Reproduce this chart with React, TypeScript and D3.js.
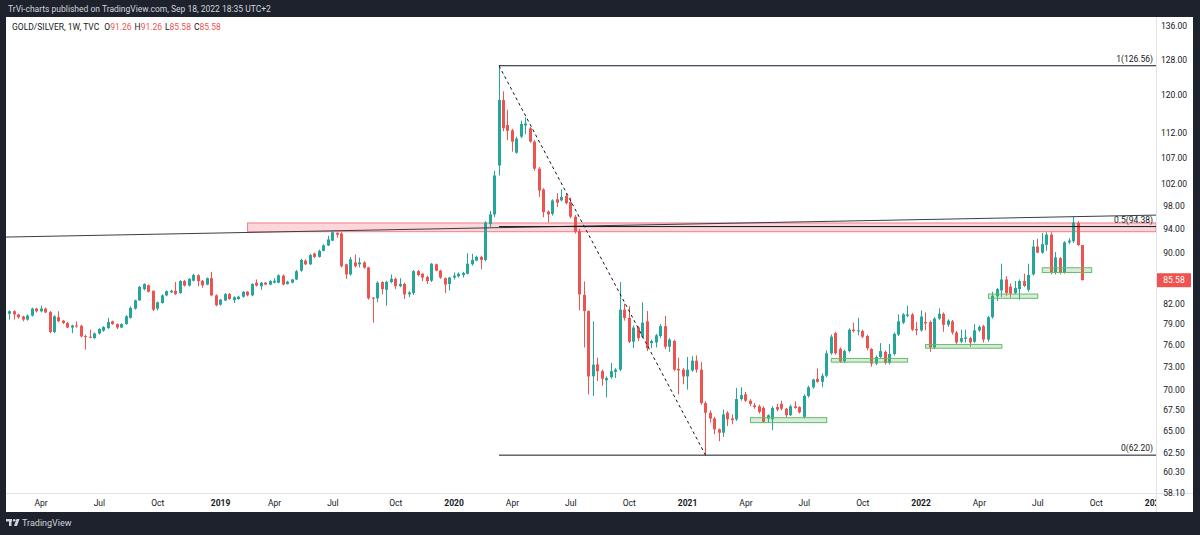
import React, { useEffect } from "react";
import * as d3 from "d3";

type OHLC = [number, number, number, number]; // open, high, low, close

// ---- data (weekly bars, GOLD/SILVER, TVC) ----
const firstWeek = "2018-02-12";

const ohlc2018: OHLC[] = [
  [80.5, 81.0, 79.65, 80.87], [80.87, 81.0, 79.65, 80.4], [80.4, 80.5, 79.8, 80.0], [80.1, 80.2, 79.4, 79.65],
  [79.65, 80.4, 79.5, 80.23], [80.23, 81.4, 80.1, 81.27], [81.27, 81.4, 80.7, 80.87], [80.87, 81.7, 80.7, 81.27],
  [81.27, 81.4, 80.6, 80.7], [80.75, 80.9, 77.7, 77.86], [77.86, 80.3, 77.7, 80.13], [80.0, 80.87, 79.3, 79.4],
  [79.5, 79.6, 79.0, 79.15], [79.15, 79.3, 78.4, 78.5], [78.5, 78.9, 77.7, 78.8], [78.8, 79.4, 78.5, 78.7],
  [78.76, 78.9, 77.1, 77.24], [77.3, 77.5, 75.4, 77.19], [77.2, 78.2, 77.0, 77.1], [77.0, 77.8, 76.9, 77.67],
  [77.67, 78.4, 77.5, 78.3], [78.05, 78.7, 77.9, 78.57], [78.43, 79.9, 78.3, 79.3], [79.4, 79.5, 78.9, 79.0],
  [79.0, 79.1, 78.3, 78.5], [78.5, 79.1, 78.4, 79.0], [79.0, 80.3, 78.9, 80.13], [79.9, 81.6, 79.8, 81.37],
  [81.27, 82.6, 81.1, 82.5], [82.5, 84.7, 82.4, 84.55], [84.2, 85.1, 84.0, 85.0], [84.8, 84.9, 83.7, 83.8],
  [83.95, 84.0, 80.9, 81.1], [81.27, 82.3, 81.0, 82.2], [82.1, 83.4, 82.0, 83.25], [83.25, 84.0, 83.1, 83.9],
  [83.7, 84.1, 83.6, 83.95], [83.95, 85.3, 83.3, 83.45], [83.6, 85.6, 83.5, 85.45], [85.45, 85.6, 84.6, 84.75],
  [84.75, 85.9, 84.6, 85.8], [85.5, 86.6, 85.4, 86.4], [86.35, 86.5, 84.65, 85.45], [85.5, 85.6, 84.4, 84.8],
  [84.9, 86.0, 84.8, 85.9], [85.9, 86.9, 83.1, 83.25], [83.25, 83.4, 81.6, 81.76],
];

const ohlc2019: OHLC[] = [
  [81.86, 82.7, 81.7, 82.6], [82.47, 83.6, 82.4, 83.45], [83.45, 83.6, 82.6, 82.7], [82.55, 83.1, 82.1, 82.97],
  [82.7, 83.2, 82.6, 83.05], [83.05, 83.9, 82.9, 83.8], [83.8, 83.9, 83.1, 83.25], [83.25, 85.1, 83.1, 85.0],
  [85.2, 85.7, 84.6, 84.75], [84.65, 85.3, 84.1, 85.2], [85.2, 85.3, 84.8, 84.9], [84.9, 85.6, 84.8, 85.45],
  [85.2, 85.9, 85.1, 85.5], [85.2, 86.5, 85.1, 86.35], [86.3, 86.5, 84.8, 84.9], [85.0, 85.5, 84.9, 85.35],
  [85.2, 85.8, 85.1, 85.7], [85.7, 87.2, 85.6, 87.0], [87.1, 89.0, 86.9, 88.8], [88.7, 88.9, 88.0, 88.1],
  [88.1, 89.8, 88.0, 89.6], [89.85, 90.0, 89.1, 89.3], [89.3, 90.5, 89.2, 90.3], [90.3, 91.4, 90.2, 91.2],
  [91.2, 92.8, 91.1, 92.2], [92.0, 93.65, 91.9, 93.4], [93.3, 93.4, 92.5, 93.0], [93.2, 93.4, 87.6, 87.8],
  [88.1, 88.2, 85.8, 86.5], [86.5, 89.3, 86.3, 88.9], [88.4, 89.7, 87.6, 87.8], [88.1, 89.2, 87.6, 88.4],
  [88.4, 88.6, 87.4, 87.56], [87.6, 87.7, 82.6, 82.8], [82.9, 83.0, 79.2, 82.8], [82.8, 85.4, 82.2, 85.2],
  [85.3, 85.4, 83.4, 84.2], [84.1, 85.5, 81.7, 85.3], [85.3, 86.5, 85.1, 85.8], [85.8, 86.0, 84.2, 84.65],
  [84.65, 85.9, 84.5, 85.0], [85.0, 85.2, 82.7, 83.4], [83.4, 83.9, 83.0, 83.7], [83.6, 87.2, 83.3, 87.0],
  [87.0, 87.2, 86.2, 86.4], [86.6, 86.7, 85.45, 86.0], [86.1, 86.3, 85.0, 85.45], [85.5, 88.3, 85.3, 88.2],
  [88.1, 88.2, 87.0, 87.1], [87.1, 87.2, 85.8, 86.0], [85.9, 86.0, 83.6, 84.9], [85.0, 86.1, 84.0, 86.0],
];

const ohlc2020: OHLC[] = [
  [86.0, 86.8, 85.7, 86.3], [86.2, 86.8, 86.0, 86.6], [86.4, 86.9, 86.0, 86.7], [86.6, 89.9, 86.5, 88.2],
  [88.1, 89.8, 87.9, 88.8], [88.7, 89.5, 88.6, 89.3], [89.3, 89.5, 87.3, 88.8], [88.8, 95.3, 88.6, 95.1],
  [94.8, 97.1, 94.3, 96.5], [96.5, 104.5, 96.0, 103.6], [105.5, 126.56, 103.6, 118.9], [118.9, 120.8, 112.3, 112.9],
  [113.6, 116.8, 110.5, 112.4], [112.5, 112.8, 108.2, 110.2], [108.0, 111.2, 107.8, 110.8], [111.2, 114.5, 110.9, 113.8],
  [113.5, 115.2, 111.7, 113.9], [112.9, 113.2, 110.0, 110.2], [110.2, 110.5, 104.5, 104.9], [104.9, 105.2, 99.6, 100.8],
  [101.0, 101.2, 96.0, 96.9], [97.0, 97.2, 95.1, 96.5], [96.6, 99.2, 96.3, 98.98], [99.2, 100.3, 97.8, 98.6],
  [99.0, 101.0, 98.8, 99.6], [99.8, 100.2, 98.3, 98.5], [98.7, 99.5, 95.8, 96.1], [96.1, 96.4, 93.2, 93.5],
  [93.6, 94.0, 81.0, 83.4], [83.3, 85.4, 75.7, 80.9], [80.9, 81.0, 69.5, 71.8], [71.83, 79.4, 69.3, 73.36],
  [73.4, 74.3, 71.2, 72.5], [72.5, 72.7, 70.6, 71.5], [71.3, 71.8, 69.1, 71.6], [71.7, 73.6, 71.5, 72.5],
  [72.4, 72.9, 71.6, 72.7], [72.7, 85.3, 72.5, 81.1], [81.1, 82.0, 79.5, 79.9], [79.9, 81.6, 76.3, 76.5],
  [76.5, 78.8, 75.6, 78.5], [78.5, 78.7, 76.6, 77.0], [77.2, 82.2, 77.0, 79.2], [79.4, 80.9, 75.2, 75.6],
  [76.3, 76.8, 75.6, 76.6], [76.4, 77.6, 75.7, 77.4], [77.3, 79.0, 77.0, 78.7], [78.7, 80.2, 75.5, 75.8],
  [75.8, 77.0, 75.1, 76.8], [76.6, 76.8, 72.5, 72.7], [72.8, 74.3, 69.5, 72.6], [72.7, 72.9, 70.8, 71.8],
];

const ohlc2021: OHLC[] = [
  [71.8, 74.4, 70.1, 72.7], [72.6, 74.5, 72.4, 73.9], [73.9, 74.6, 72.3, 72.7], [72.7, 73.7, 68.2, 68.4],
  [68.4, 68.6, 62.2, 67.2], [67.2, 67.5, 66.0, 66.5], [66.5, 66.7, 64.6, 65.2], [65.2, 65.3, 63.8, 64.8],
  [64.8, 67.6, 64.3, 67.0], [67.2, 67.4, 65.6, 66.4], [66.5, 67.0, 65.8, 66.3], [66.4, 70.3, 66.2, 68.9],
  [68.9, 70.4, 68.7, 69.4], [69.5, 69.8, 68.5, 68.7], [68.7, 68.9, 68.0, 68.3], [68.1, 68.4, 67.7, 67.9],
  [68.0, 68.2, 67.1, 67.3], [67.8, 68.0, 66.0, 66.1], [66.5, 67.0, 66.0, 66.9], [66.4, 68.0, 65.1, 67.8],
  [67.9, 68.3, 67.4, 67.6], [68.3, 68.7, 67.5, 67.7], [67.7, 67.8, 66.6, 66.9], [66.9, 68.2, 66.8, 68.0],
  [68.0, 68.6, 67.7, 67.8], [67.9, 68.0, 67.1, 67.25], [66.7, 69.5, 66.5, 69.3], [69.3, 70.6, 69.1, 70.4],
  [70.4, 71.5, 70.2, 71.4], [71.5, 72.86, 71.0, 71.1], [71.1, 72.2, 70.4, 71.9], [71.9, 75.3, 71.7, 74.9],
  [74.9, 77.5, 74.7, 77.2], [77.7, 77.9, 74.7, 74.9], [75.5, 75.7, 73.6, 73.8], [73.8, 75.4, 73.6, 75.2],
  [75.2, 78.4, 75.0, 78.2], [78.2, 79.2, 77.8, 78.0], [78.0, 79.9, 77.4, 78.1], [78.0, 78.2, 77.0, 77.2],
  [77.3, 77.5, 75.3, 75.6], [75.5, 75.6, 73.1, 73.5], [73.5, 74.6, 73.3, 74.4], [74.4, 76.3, 74.2, 75.2],
  [75.1, 75.3, 73.4, 73.6], [73.6, 76.2, 73.4, 74.8], [74.8, 77.8, 74.6, 77.6], [77.5, 80.4, 77.3, 79.4],
  [79.2, 80.6, 79.0, 80.4], [80.2, 81.7, 80.0, 80.4], [80.4, 80.6, 78.0, 78.2], [78.3, 79.3, 77.4, 78.1],
];

const ohlc2022: OHLC[] = [
  [78.1, 81.0, 77.9, 80.1], [79.3, 80.7, 78.1, 79.1], [79.3, 79.5, 75.1, 75.7], [75.7, 80.0, 75.5, 79.8],
  [79.8, 81.3, 79.6, 80.5], [80.5, 80.7, 77.9, 78.9], [78.9, 79.7, 78.6, 79.5], [79.4, 79.6, 77.5, 77.8],
  [77.8, 78.0, 76.2, 76.4], [76.5, 78.2, 76.3, 77.0], [76.9, 78.2, 76.4, 77.1], [77.0, 77.2, 75.8, 76.4],
  [76.5, 79.0, 76.3, 78.1], [78.1, 78.8, 77.9, 78.6], [78.7, 78.9, 76.4, 76.8], [76.8, 80.2, 76.5, 80.0],
  [80.0, 83.8, 79.8, 83.2], [83.1, 84.4, 82.4, 84.2], [84.0, 88.2, 83.0, 85.7], [85.7, 86.2, 83.2, 83.6],
  [84.6, 85.1, 82.9, 83.5], [83.6, 85.45, 83.4, 84.4], [84.2, 85.7, 82.6, 85.45], [85.45, 86.6, 84.5, 84.7],
  [84.1, 88.2, 83.8, 86.4], [86.5, 92.1, 86.3, 91.0], [91.0, 92.3, 89.9, 90.0], [90.0, 93.3, 89.8, 91.4],
  [91.3, 93.4, 90.3, 93.0], [93.0, 93.4, 86.5, 86.8], [86.8, 90.1, 86.5, 89.2], [89.1, 89.3, 86.5, 86.8],
  [86.8, 91.9, 86.6, 91.7], [91.7, 92.4, 91.4, 92.0], [91.9, 96.1, 91.6, 95.1], [95.0, 95.3, 91.1, 91.26],
  [91.26, 91.26, 85.58, 85.58],
];

const priceTicks = [136, 128, 120, 112, 107, 102, 98, 94, 90, 82, 79, 76, 73, 70, 67.5, 65, 62.5, 60.3, 58.1];
const lastClose = 85.58;
const fibStart = { date: "2020-03-16", price: 126.56 };
const fibEnd = { date: "2021-02-01", price: 62.2 };
const fibRatios = [1, 0.5, 0];
const trendAnchors = [
  { date: "2019-07-01", price: 93.65 },
  { date: "2022-08-29", price: 96.1 },
];
const resistanceZone = { start: "2019-02-18", top: 95.0, bottom: 93.5 };
const supportBoxes = [
  { start: "2021-04-12", end: "2021-08-09", top: 66.6, bottom: 66.0 },
  { start: "2021-08-16", end: "2021-12-13", top: 74.2, bottom: 73.7 },
  { start: "2022-01-10", end: "2022-05-09", top: 76.1, bottom: 75.6 },
  { start: "2022-04-18", end: "2022-07-04", top: 83.45, bottom: 82.8 },
  { start: "2022-07-11", end: "2022-09-26", top: 87.55, bottom: 86.8 },
];
const axisYears = [2018, 2019, 2020, 2021, 2022, 2023];
const quarterMonths = [0, 3, 6, 9];
const monthNames = ["Jan", "Feb", "Mar", "Apr", "May", "Jun", "Jul", "Aug", "Sep", "Oct", "Nov", "Dec"];

const UP = "#26a69a";
const DOWN = "#ef5350";
const DARK = "#1e222d";
const FONT = "Roboto, 'Liberation Sans', Arial, sans-serif";

const parse = (s: string) => new Date(s + "T00:00:00Z");

export default function App() {
  useEffect(() => {
    document.body.style.margin = "0";
  }, []);

  const W = 1200, H = 535;
  const pane = { left: 6, right: 1156, top: 17, bottom: 493 };
  const axisRight = 1193;

  const bars = [...ohlc2018, ...ohlc2019, ...ohlc2020, ...ohlc2021, ...ohlc2022];
  const start = parse(firstWeek);
  const data = bars.map((b, i) => {
    const [o, h, l, c] = b;
    return { date: d3.utcDay.offset(start, 7 * i), o, c, h: Math.max(h, o, c), l: Math.min(l, o, c) };
  });

  const x = d3.scaleUtc()
    .domain([data[0].date, data[data.length - 1].date])
    .range([9.6, 1082.7]);
  const y = d3.scaleLog().domain([58.05, 138.33]).range([pane.bottom, pane.top]);

  const bodyW = 3;

  // time labels
  const timeLabels: { x: number; text: string; year: boolean }[] = [];
  axisYears.forEach((yr) => {
    quarterMonths.forEach((m) => {
      const d = d3.utcMonday.ceil(new Date(Date.UTC(yr, m, 1)));
      const px = x(d);
      if (px < pane.left + 5 || px > pane.right + 30) return;
      timeLabels.push({ x: px, text: m === 0 ? String(yr) : monthNames[m], year: m === 0 });
    });
  });

  // fib
  const fx1 = x(parse(fibStart.date));
  const fx2 = x(parse(fibEnd.date));
  const fibLines = fibRatios.map((r) => {
    const p = fibEnd.price + r * (fibStart.price - fibEnd.price);
    return { r, p, y: y(p) };
  });

  // trendline extended across pane
  const t1 = { x: x(parse(trendAnchors[0].date)), y: y(trendAnchors[0].price) };
  const t2 = { x: x(parse(trendAnchors[1].date)), y: y(trendAnchors[1].price) };
  const slope = (t2.y - t1.y) / (t2.x - t1.x);
  const tyAt = (px: number) => t1.y + slope * (px - t1.x);

  const zoneX = x(parse(resistanceZone.start));

  const lastY = y(lastClose);

  return (
    <svg width={W} height={H} style={{ display: "block", position: "absolute", left: 0, top: 0 }} fontFamily={FONT}>
      <defs>
        <clipPath id="paneClip">
          <rect x={pane.left} y={pane.top} width={pane.right - pane.left} height={pane.bottom - pane.top} />
        </clipPath>
        <clipPath id="timeClip">
          <rect x={pane.left} y={pane.bottom} width={pane.right - pane.left} height={20} />
        </clipPath>
      </defs>
      {/* frame */}
      <rect x={0} y={0} width={W} height={H} fill={DARK} />
      <rect x={pane.left} y={pane.top} width={axisRight - pane.left} height={512 - pane.top} fill="#ffffff" />
      <text x={8} y={12} fontSize={8.5} fill="#d1d4dc">
        TrVi-charts published on TradingView.com, Sep 18, 2022 18:35 UTC+2
      </text>

      {/* pane */}
      <g clipPath="url(#paneClip)">
        {/* resistance zone */}
        <rect
          x={zoneX}
          y={y(resistanceZone.top)}
          width={pane.right - zoneX}
          height={y(resistanceZone.bottom) - y(resistanceZone.top)}
          fill="rgba(242,54,69,0.2)"
          stroke="#ef7f86"
          strokeWidth={1}
        />
        {/* candles */}
        {data.map((d, i) => {
          const cx = x(d.date);
          const up = d.c >= d.o;
          const col = up ? UP : DOWN;
          const left = Math.round(cx - bodyW / 2);
          const yTop = y(Math.max(d.o, d.c));
          const yBot = y(Math.min(d.o, d.c));
          return (
            <g key={i}>
              <line x1={left + 1.5} x2={left + 1.5} y1={y(d.h)} y2={y(d.l)} stroke={col} strokeWidth={1} />
              <rect x={left} y={yTop} width={bodyW} height={Math.max(1, yBot - yTop)} fill={col} />
            </g>
          );
        })}
        {/* support boxes */}
        {supportBoxes.map((b, i) => {
          const bx1 = x(parse(b.start));
          const bx2 = x(parse(b.end));
          return (
            <rect
              key={i}
              x={bx1}
              y={y(b.top)}
              width={bx2 - bx1}
              height={y(b.bottom) - y(b.top)}
              fill="rgba(76,175,80,0.22)"
              stroke="#66bb6a"
              strokeWidth={1}
            />
          );
        })}
        {/* trendline */}
        <line x1={pane.left} y1={tyAt(pane.left)} x2={pane.right} y2={tyAt(pane.right)} stroke="#3a3d47" strokeWidth={1} />
        {/* fib retracement */}
        {fibLines.map((f) => (
          <g key={f.r}>
            <line x1={fx1} x2={pane.right} y1={f.y} y2={f.y} stroke="#131722" strokeWidth={1} />
            <text x={pane.right - 3} y={f.y - 4} fontSize={8.5} fill="#131722" textAnchor="end">
              {`${f.r}(${f.p.toFixed(2)})`}
            </text>
          </g>
        ))}
        <line
          x1={fx1}
          y1={y(fibStart.price)}
          x2={fx2}
          y2={y(fibEnd.price)}
          stroke="#131722"
          strokeWidth={1}
          strokeDasharray="3 3"
        />
      </g>

      {/* legend */}
      <text x={12} y={30} fontSize={8.5} fill="#131722">
        <tspan>GOLD/SILVER, 1W, TVC </tspan>
        <tspan dx={3}>O</tspan>
        <tspan fill={DOWN}>91.26</tspan>
        <tspan dx={3}>H</tspan>
        <tspan fill={DOWN}>91.26</tspan>
        <tspan dx={3}>L</tspan>
        <tspan fill={DOWN}>85.58</tspan>
        <tspan dx={3}>C</tspan>
        <tspan fill={DOWN}>85.58</tspan>
      </text>

      {/* axes separators */}
      <line x1={pane.right + 0.5} x2={pane.right + 0.5} y1={pane.top} y2={512} stroke="#e0e3eb" />
      <line x1={pane.left} x2={axisRight} y1={pane.bottom + 0.5} y2={pane.bottom + 0.5} stroke="#e0e3eb" />

      {/* price axis */}
      {priceTicks.map((p) => (
        <text key={p} x={1174} y={y(p)} fontSize={8.5} fill="#131722" textAnchor="middle" dominantBaseline="central">
          {p.toFixed(2)}
        </text>
      ))}
      <rect x={pane.right + 1} y={lastY - 7} width={34} height={14} fill={DOWN} />
      <text x={1174} y={lastY} fontSize={8.5} fill="#ffffff" textAnchor="middle" dominantBaseline="central">
        {lastClose.toFixed(2)}
      </text>

      {/* time axis */}
      <g clipPath="url(#timeClip)">
        {timeLabels.map((t, i) => (
          <text
            key={i}
            x={t.x}
            y={503}
            fontSize={8.5}
            fill="#131722"
            fontWeight={t.year ? 700 : 400}
            textAnchor="middle"
            dominantBaseline="central"
          >
            {t.text}
          </text>
        ))}
      </g>

      {/* footer logo */}
      <g fill="#d1d4dc">
        <rect x={6} y={519} width={6} height={2.5} />
        <rect x={9} y={519} width={2.5} height={7} />
        <circle cx={14.2} cy={520.3} r={1.3} />
        <path d="M16.5,519 L19.5,519 L17,526 L14,526 Z" />
      </g>
      <text x={22} y={526} fontSize={9} fill="#d1d4dc">TradingView</text>
    </svg>
  );
}
